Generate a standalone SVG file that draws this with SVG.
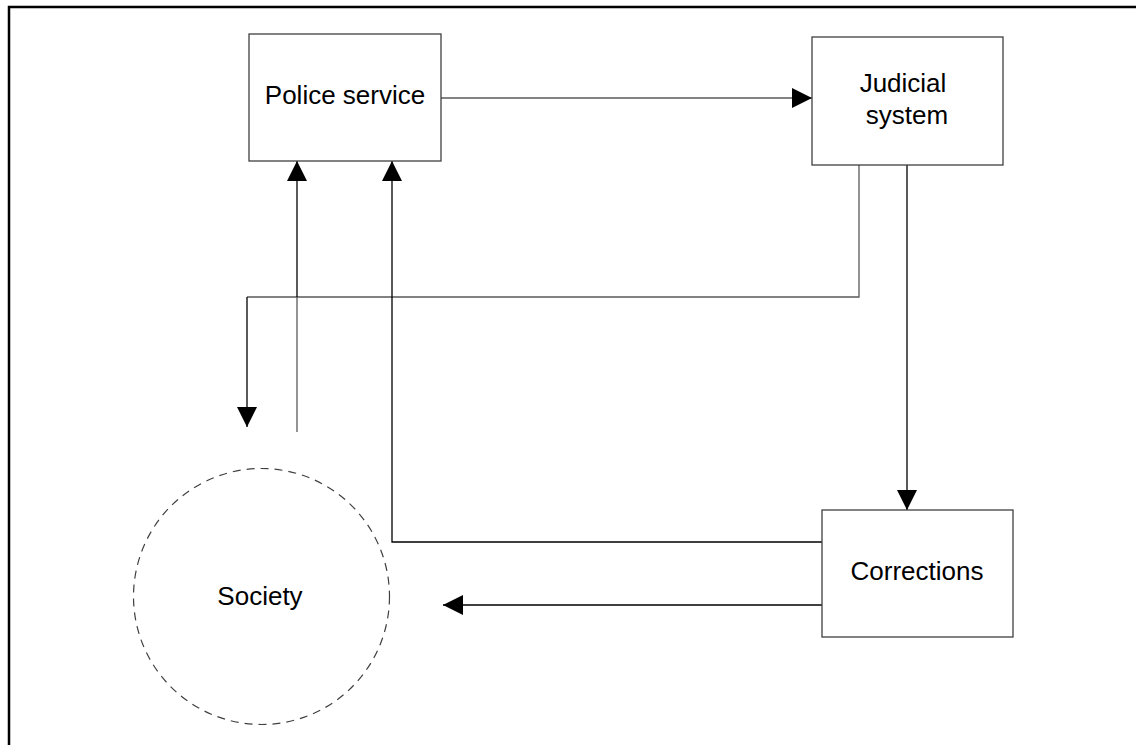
<svg xmlns="http://www.w3.org/2000/svg" width="1136" height="745" viewBox="0 0 1136 745">
<style>
.box{fill:#fff;stroke:#404040;stroke-width:1.3}
.lbl{font-family:"Liberation Sans",Arial,sans-serif;font-size:26px;fill:#000;text-anchor:middle}
.c{fill:none;stroke:#000;stroke-width:1.3}
.g{stroke:#5a5a5a}
</style>
<defs>
<marker id="ah" viewBox="0 0 20 20" refX="20" refY="10" markerWidth="20" markerHeight="20" markerUnits="userSpaceOnUse" orient="auto">
<path d="M0,0 L20,10 L0,20 Z" fill="#000"/>
</marker>
</defs>
<rect width="1136" height="745" fill="#fff"/>
<path d="M9,745 V7 H1136" fill="none" stroke="#000" stroke-width="2.5"/>
<g id="connectors">
<line class="c g" x1="441" y1="98" x2="812" y2="98" marker-end="url(#ah)"/>
<polyline class="c g" points="859,165 859,297 247,297"/>
<line class="c" x1="247" y1="297" x2="247" y2="427" marker-end="url(#ah)"/>
<line class="c g" x1="297" y1="432" x2="297" y2="297"/>
<line class="c" x1="297" y1="297" x2="297" y2="161" marker-end="url(#ah)"/>
<polyline class="c" points="822,542 392,542 392,161" marker-end="url(#ah)"/>
<line class="c" x1="907" y1="165" x2="907" y2="510" marker-end="url(#ah)"/>
<line class="c" x1="822" y1="605" x2="443" y2="605" marker-end="url(#ah)"/>
</g>
<g id="police">
<rect class="box" x="249" y="34" width="192" height="127"/>
<text class="lbl" x="345" y="104">Police service</text>
</g>
<g id="judicial">
<rect class="box" x="812" y="37" width="191" height="128"/>
<text class="lbl" x="903" y="92">Judicial</text>
<text class="lbl" x="907" y="124">system</text>
</g>
<g id="corrections">
<rect class="box" x="822" y="510" width="191" height="127"/>
<text class="lbl" x="917" y="580">Corrections</text>
</g>
<g id="society">
<circle cx="261.5" cy="596.5" r="128" fill="none" stroke="#404040" stroke-width="1.2" stroke-dasharray="8,6"/>
<text class="lbl" x="260" y="605">Society</text>
</g>
</svg>
